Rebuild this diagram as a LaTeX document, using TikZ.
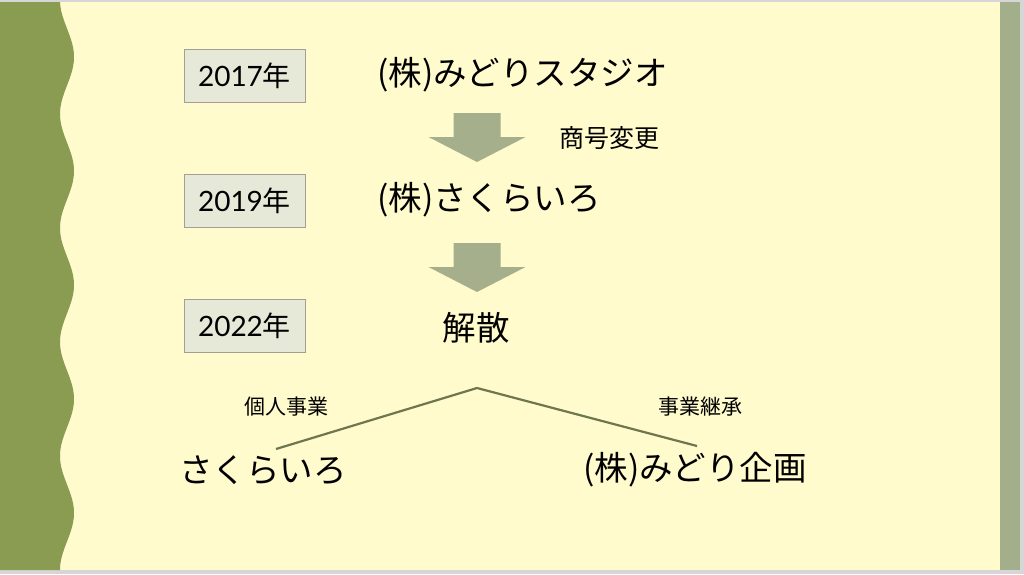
\documentclass[tikz,border=0pt]{standalone}
\usepackage{fontspec}
\setmainfont{Noto Sans CJK JP}
\newfontfamily\yearfont{Lato}
\usepackage{xcolor}
\usetikzlibrary{positioning}
\definecolor{slidebg}{HTML}{FFFBCC}
\definecolor{framegrey}{HTML}{D6D6D6}
\definecolor{leftgreen}{HTML}{8A9B52}
\definecolor{rightbar}{HTML}{A2AF8A}
\definecolor{arrowfill}{HTML}{A5AF8C}
\definecolor{yearfill}{HTML}{E6E9D7}
\definecolor{yearline}{HTML}{A0A096}
\definecolor{branchline}{HTML}{6E7650}

\newcommand{\yeartext}[1]{\raisebox{-3pt}{{\yearfont #1}年}}

\tikzset{
	yearbox/.style={draw=yearline,fill=yearfill,line width=1pt,minimum width=121pt,minimum height=53pt,inner sep=0pt,font=\fontsize{28}{28}\selectfont},
	company/.style={anchor=west,inner sep=0pt,font=\fontsize{33.5}{33.5}\selectfont},
	note/.style={inner sep=0pt,font=\fontsize{21}{21}\selectfont},
	branch/.style={draw=branchline,line width=2.2pt},
	downarrow/.pic={\fill[arrowfill] (-23.5,0) -- (23.5,0) -- (23.5,24) -- (48.5,24) -- (0,49) -- (-48.5,24) -- (-23.5,24) -- cycle;}
}

\begin{document}
\begin{tikzpicture}[x=1pt,y=-1pt]
			\useasboundingbox (0,0) rectangle (1024,574);
			% slide
			\fill[framegrey] (0,0) rectangle (1024,574);
			\fill[slidebg] (0,2) rectangle (1020,570);
			\fill[rightbar] (1000,2) rectangle (1020,570);
			\begin{scope}
				\clip (0,2) rectangle (1020,570);
				\fill[leftgreen] (0,0) -- plot[domain=0:570,samples=120,smooth] ({67-7*cos(3.15789*\x)},\x) -- (0,570) -- cycle;
			\end{scope}

			% years
			\node[yearbox] (y2017) at (244.5,75.5) {\yeartext{2017}};
			\node[yearbox] (y2019) at (244.5,200.5) {\yeartext{2019}};
			\node[yearbox] (y2022) at (244.5,325.5) {\yeartext{2022}};

			% companies
			\node[company] (midori) at (377,75) {(株)みどりスタジオ};
			\node[company] (sakura) at (377,200) {(株)さくらいろ};
			\node[company,anchor=center] (kaisan) at (476,328) {解散};
			\node[company] (kojin) at (179,470) {さくらいろ};
			\node[company] (kikaku) at (583,470) {(株)みどり企画};

			% arrows
			\pic at (477,113) {downarrow};
			\pic at (477,243) {downarrow};
			\node[note,anchor=west,font=\fontsize{25}{25}\selectfont] (shogo) at (559,138) {商号変更};

			% split
			\coordinate (split) at (477,388);
			\coordinate (kojinend) at (276,449);
			\coordinate (kikakuend) at (697,446);
			\draw[branch] (kojinend) -- (split) -- (kikakuend);
			\node[note] (kojinlab) at (286,407) {個人事業};
			\node[note] (keisholab) at (700,407) {事業継承};
\end{tikzpicture}
\end{document}
